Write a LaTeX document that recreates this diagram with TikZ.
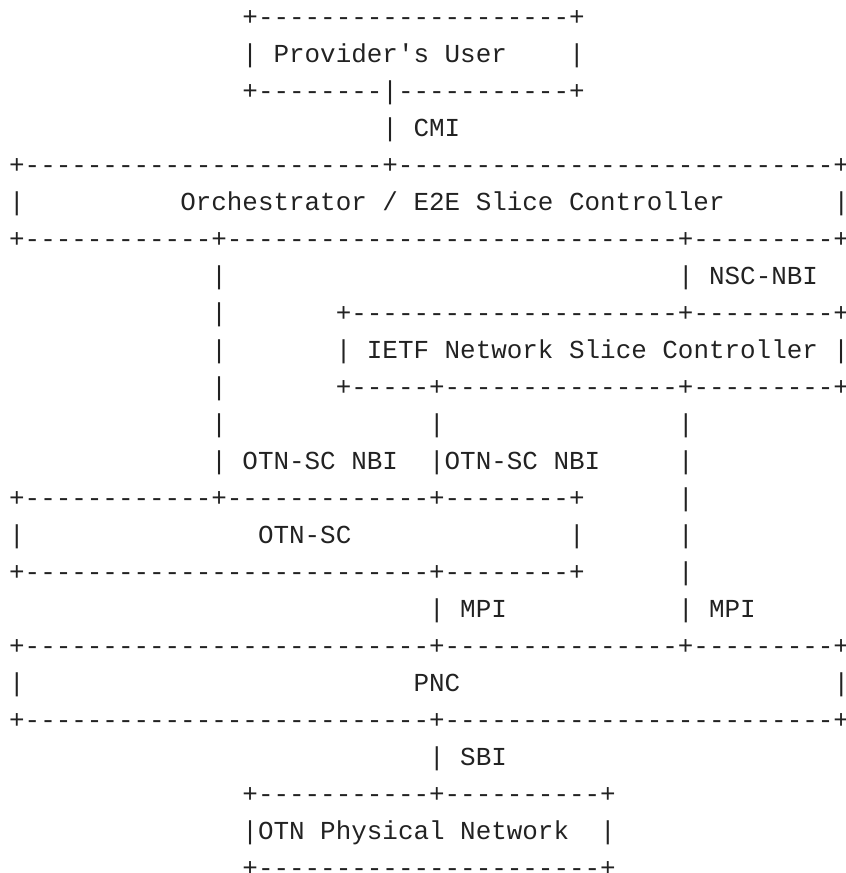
\documentclass[tikz,border=0pt]{standalone}
\usepackage{fontspec}
\setmonofont{Liberation Mono}
\definecolor{ink}{HTML}{222222}
% blanks and dashes, counted in character cells
\newcommand\sk[1]{\hskip#1\fontdimen2\font}
\newcommand\hl[1]{\foreach\k in {1,...,#1}{-}}
\tikzset{row/.style={anchor=base west,inner sep=0pt,text=ink,
    font=\ttfamily\fontsize{19.44pt}{19.44pt}\selectfont}}
\begin{document}
\begin{tikzpicture}[x=0.75pt,y=-0.75pt]
    \useasboundingbox (0,0) rectangle (845,873);
    \node[row] (r1) at (8.9,25.4) {\sk{15}+\hl{20}+};
    \node[row] (r2) at (8.9,62.4) {\sk{15}| Provider's User\sk{4}|};
    \node[row] (r3) at (8.9,99.4) {\sk{15}+\hl{8}|\hl{11}+};
    \node[row] (r4) at (8.9,136.4) {\sk{24}| CMI};
    \node[row] (r5) at (8.9,173.4) {+\hl{23}+\hl{28}+};
    \node[row] (r6) at (8.9,210.4) {|\sk{10}Orchestrator / E2E Slice Controller\sk{7}|};
    \node[row] (r7) at (8.9,247.4) {+\hl{12}+\hl{29}+\hl{9}+};
    \node[row] (r8) at (8.9,284.4) {\sk{13}|\sk{29}| NSC-NBI};
    \node[row] (r9) at (8.9,321.4) {\sk{13}|\sk{7}+\hl{21}+\hl{9}+};
    \node[row] (r10) at (8.9,358.4) {\sk{13}|\sk{7}| IETF Network Slice Controller |};
    \node[row] (r11) at (8.9,395.4) {\sk{13}|\sk{7}+\hl{5}+\hl{15}+\hl{9}+};
    \node[row] (r12) at (8.9,432.4) {\sk{13}|\sk{13}|\sk{15}|};
    \node[row] (r13) at (8.9,469.4) {\sk{13}| OTN-SC NBI\sk{2}|OTN-SC NBI\sk{5}|};
    \node[row] (r14) at (8.9,506.4) {+\hl{12}+\hl{13}+\hl{8}+\sk{6}|};
    \node[row] (r15) at (8.9,543.4) {|\sk{15}OTN-SC\sk{14}|\sk{6}|};
    \node[row] (r16) at (8.9,580.4) {+\hl{26}+\hl{8}+\sk{6}|};
    \node[row] (r17) at (8.9,617.4) {\sk{27}| MPI\sk{11}| MPI};
    \node[row] (r18) at (8.9,654.4) {+\hl{26}+\hl{15}+\hl{9}+};
    \node[row] (r19) at (8.9,691.4) {|\sk{25}PNC\sk{24}|};
    \node[row] (r20) at (8.9,728.4) {+\hl{26}+\hl{25}+};
    \node[row] (r21) at (8.9,765.4) {\sk{27}| SBI};
    \node[row] (r22) at (8.9,802.4) {\sk{15}+\hl{11}+\hl{10}+};
    \node[row] (r23) at (8.9,839.4) {\sk{15}|OTN Physical Network\sk{2}|};
    \node[row] (r24) at (8.9,876.4) {\sk{15}+\hl{22}+};
\end{tikzpicture}
\end{document}
